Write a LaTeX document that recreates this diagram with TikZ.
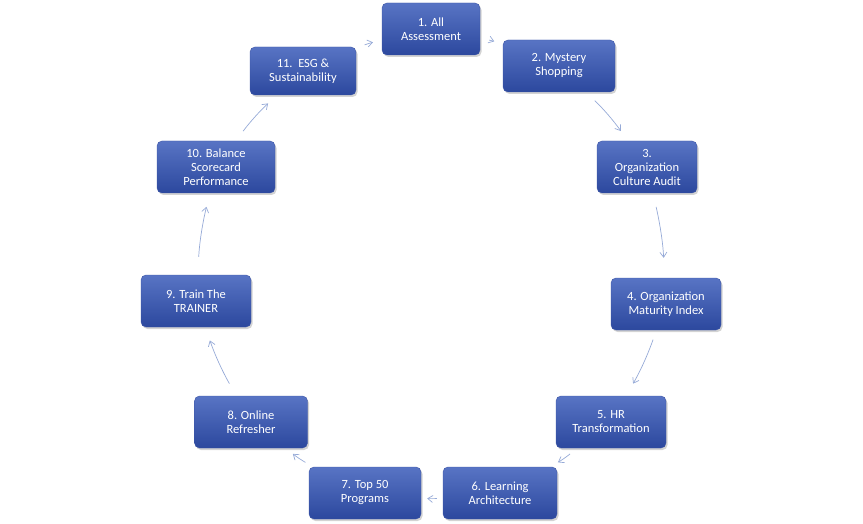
\documentclass[tikz,border=0pt]{standalone}
\usepackage{fontspec}
\setmainfont{Carlito}
\usetikzlibrary{shadows,arrows.meta}
\begin{document}
\begin{tikzpicture}[x=1pt,y=-1pt,
  box/.style={rounded corners=5pt, minimum height=52pt, inner sep=2pt, align=center, text=white,
    top color={rgb,255:red,88;green,116;blue,196}, bottom color={rgb,255:red,44;green,72;blue,158},
    draw={rgb,255:red,60;green,85;blue,165}, line width=0.4pt,
    drop shadow={shadow xshift=1.5pt,shadow yshift=-2pt,opacity=0.35},
    font=\fontsize{12.5}{14}\selectfont},
  con/.style={-{Straight Barb[length=5pt,width=7pt]}, draw={rgb,255:red,150;green,170;blue,215}, line width=0.7pt, shorten <=9pt, shorten >=9pt}]
\useasboundingbox (0,0) rectangle (863,524);
\node[box,minimum width=98pt]  (n1)  at (431,29)  {1. All\\Assessment};
\node[box,minimum width=112pt] (n2)  at (559,66)  {2. Mystery\\Shopping};
\node[box,minimum width=100pt] (n3)  at (647,167) {3.\\Organization\\Culture Audit};
\node[box,minimum width=110pt] (n4)  at (666,304) {4. Organization\\Maturity Index};
\node[box,minimum width=110pt] (n5)  at (611,422) {5. HR\\Transformation};
\node[box,minimum width=114pt] (n6)  at (500,493) {6. Learning\\Architecture};
\node[box,minimum width=112pt] (n7)  at (365,493) {7. Top 50\\Programs};
\node[box,minimum width=113pt] (n8)  at (251,422) {8. Online\\Refresher};
\node[box,minimum width=110pt] (n9)  at (196,301) {9. Train The\\TRAINER};
\node[box,minimum width=118pt] (n10) at (216,167) {10. Balance\\Scorecard\\Performance};
\node[box,minimum width=106pt,minimum height=48pt] (n11) at (303,71) {11.\ \ ESG \&\\Sustainability};
\draw[con] (n11) to[bend left=5] (n1);
\draw[con] (n1) to[bend left=5] (n2);
\draw[con,shorten <=12pt,shorten >=12pt] (n2) to[bend left=5] (n3);
\draw[con,shorten <=14pt,shorten >=20pt] (n3) to[bend left=5] (n4);
\draw[con,shorten <=10pt,shorten >=14pt] (n4) to[bend left=5] (n5);
\draw[con] (n5) to[bend left=5] (n6);
\draw[con,shorten <=6pt,shorten >=6pt] (n6) to[bend left=5] (n7);
\draw[con] (n7) to[bend left=5] (n8);
\draw[con,shorten <=14pt,shorten >=14pt] (n8) to[bend left=5] (n9);
\draw[con,shorten <=18pt,shorten >=14pt] (n9) to[bend left=5] (n10);
\draw[con,shorten <=12pt,shorten >=12pt] (n10) to[bend left=5] (n11);
\end{tikzpicture}
\end{document}
